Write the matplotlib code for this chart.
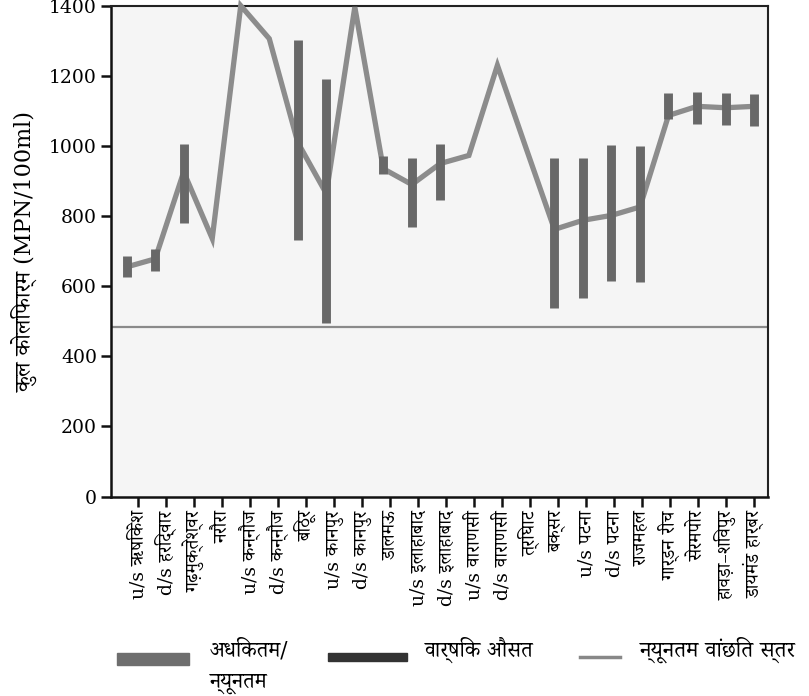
import matplotlib
matplotlib.use("Agg")
import numpy as np
import matplotlib.pyplot as plt
from matplotlib.lines import Line2D
from matplotlib.patches import Rectangle

FONTS = ["DejaVu Serif", "Noto Serif Devanagari", "Tiro Devanagari Hindi", "Noto Sans Devanagari"]

# sampling stations along the river
stations = [
    "u/s ऋषिकेश", "d/s हरिद्वार", "गढ़मुक्तेश्वर", "नरौरा", "u/s कन्नौज",
    "d/s कन्नौज", "बिठूर", "u/s कानपुर", "d/s कानपुर", "डालमऊ",
    "u/s इलाहाबाद", "d/s इलाहाबाद", "u/s वाराणसी", "d/s वाराणसी", "त्रिघाट",
    "बक्सर", "u/s पटना", "d/s पटना", "राजमहल", "गार्डन रीच",
    "सेरमपोर", "हावड़ा–शिवपुर", "डायमंड हार्बर",
]

# annual average (line)
annual_avg = [655, 678, 926, 736, 1400, 1306, 1010, 864, 1396, 935, 890, 950,
              973, 1230, 995, 762, 788, 802, 826, 1087, 1113, 1109, 1113]

# max / min range (nan = no bar)
nan = np.nan
range_max = [686, 707, 1007, nan, nan, nan, 1301, 1190, nan, 970, 966, 1005,
             nan, nan, nan, 966, 966, 1002, 1000, 1151, 1153, 1151, 1148]
range_min = [627, 644, 780, nan, nan, nan, 731, 494, nan, 919, 769, 845,
             nan, nan, nan, 539, 567, 614, 612, 1078, 1062, 1061, 1058]

# minimum desired level
min_level = 485

x = np.arange(len(stations))

fig = plt.figure(figsize=(8.09, 6.96), dpi=100)
ax = fig.add_axes([0.1372, 0.2865, 0.8125, 0.7053])
ax.set_facecolor("#f5f5f5")

ax.axhline(min_level, color="#8a8a8a", lw=1.6, zorder=2)
ax.plot(x, annual_avg, color="#8c8c8c", lw=3.8, solid_joinstyle="miter",
        clip_on=False, zorder=3)
ax.vlines(x, range_min, range_max, color="#686868", lw=6.4, zorder=4)

ax.set_ylim(0, 1400)
ax.set_xlim(-0.55, 22.5)
ax.set_yticks(range(0, 1401, 200))
ax.set_xticks(np.linspace(0.4, 22, len(stations)))
ax.set_xticklabels(stations, rotation=90, family=FONTS, fontsize=13.5)
for lab in ax.get_yticklabels():
    lab.set_family(FONTS)
    lab.set_fontsize(13.5)
ax.tick_params(axis="both", direction="out", length=7, width=1.8, color="#111111", pad=3)

for side in ["left", "bottom"]:
    ax.spines[side].set_linewidth(1.8)
    ax.spines[side].set_color("#111111")
for side in ["top", "right"]:
    ax.spines[side].set_linewidth(1.5)
    ax.spines[side].set_color("#222222")

ax.set_ylabel("कुल कोलिफार्म (MPN/100ml)", family=FONTS, fontsize=16, labelpad=8)

# legend drawn by hand below the chart
fig.add_artist(Rectangle((0.1443, 0.0445), 0.0897, 0.0172, transform=fig.transFigure,
                         color="#6e6e6e"))
fig.text(0.2596, 0.066, "अधिकतम/", family=FONTS, fontsize=15.5, va="center")
fig.text(0.2596, 0.019, "न्यूनतम", family=FONTS, fontsize=15.5, va="center")
fig.add_artist(Rectangle((0.405, 0.0503), 0.0977, 0.0115, transform=fig.transFigure,
                         color="#333333"))
fig.text(0.525, 0.066, "वार्षिक औसत", family=FONTS, fontsize=15.5, va="center")
fig.add_artist(Line2D([0.717, 0.766], [0.056, 0.056], transform=fig.transFigure,
                      color="#888888", lw=2.5))
fig.text(0.791, 0.066, "न्यूनतम वांछित स्तर", family=FONTS, fontsize=16, va="center")

fig.savefig("out.png", dpi=100)
